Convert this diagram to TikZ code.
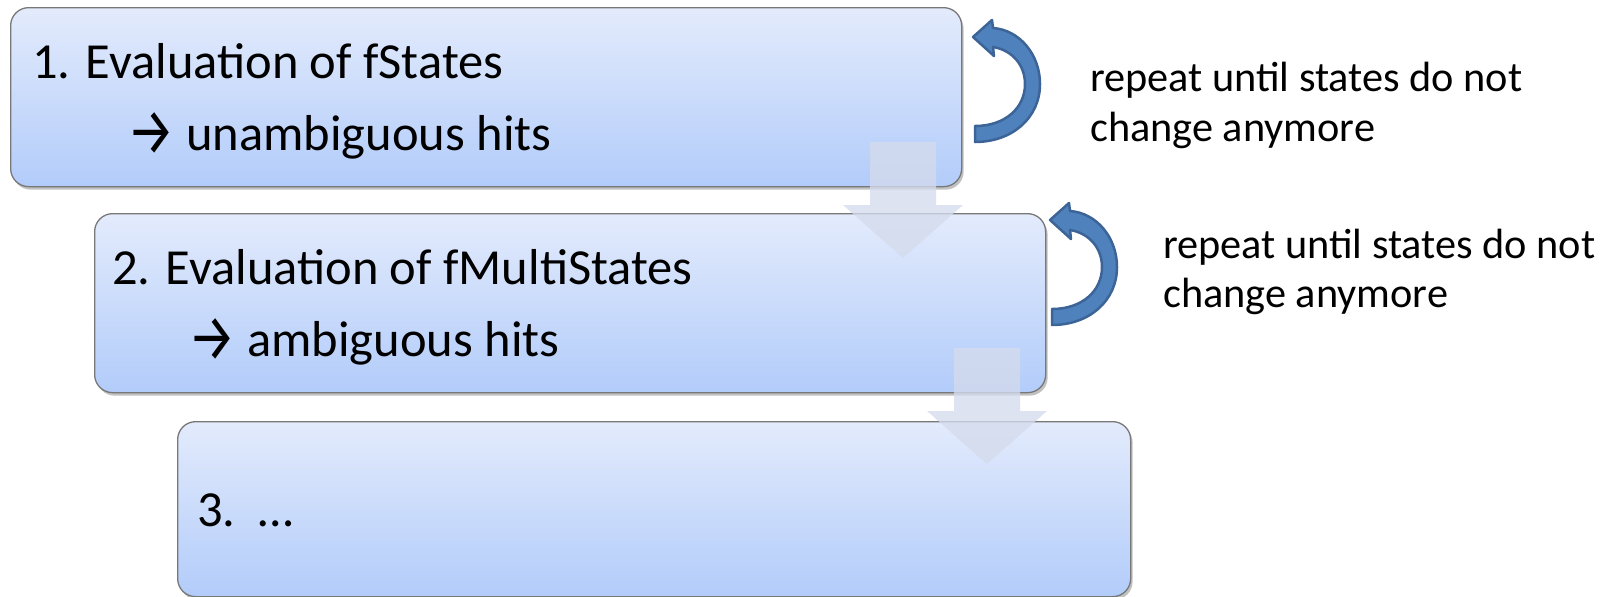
\documentclass[tikz,border=0pt]{standalone}
\usepackage{fontspec}
\usepackage{graphicx}
\setmainfont{Carlito}
\newfontfamily\firaarrow{Fira Sans}
\newfontfamily\dejavuarrow{DejaVu Sans}
% right arrow glyph: Fira Sans if it has one, else DejaVu Sans; head made a little taller
\newcommand{\steparrow}{\raisebox{-4.5pt}{\scalebox{1.05}[1.3]{\firaarrow\iffontchar\font"2192 →\else\dejavuarrow →\fi}}}
\usetikzlibrary{shadows}

\definecolor{boxtop}{RGB}{227,235,252}
\definecolor{boxbot}{RGB}{178,204,250}
\definecolor{boxline}{RGB}{120,120,120}
\definecolor{flowfill}{RGB}{212,219,236}
\definecolor{loopfill}{RGB}{79,129,189}
\definecolor{loopline}{RGB}{60,100,150}

\begin{document}
\begin{tikzpicture}[x=1pt,y=-1pt,
  stepbox/.style={draw=boxline, line width=1.3pt, rounded corners=18pt,
    top color=boxtop, bottom color=boxbot,
    minimum width=951pt, minimum height=179pt, anchor=north west, inner sep=0pt,
    drop shadow={shadow xshift=2pt, shadow yshift=-3pt, opacity=0.35, fill=black!70}},
  boxtext/.style={anchor=base west, inner sep=0pt, font=\fontsize{50.5}{60}\selectfont},
  notetext/.style={anchor=base west, inner sep=0pt, font=\fontsize{42.3}{50}\selectfont},
  flowarrow/.style={fill=flowfill, opacity=0.78},
  looparrow/.pic={
    \filldraw[fill=loopfill, draw=loopline, line width=2.5pt, line join=round]
      (0,-8) -- (0,8)
      .. controls (37,8) and (65,-16) .. (65,-50)
      .. controls (65,-79) and (45,-104) .. (18,-106)
      -- (17,-114) -- (-2,-97) -- (19,-78) -- (18,-87)
      .. controls (37,-84) and (50,-69) .. (50,-50)
      .. controls (50,-26) and (30,-8) .. (0,-8) -- cycle;
  }
]
\useasboundingbox (0,0) rectangle (1617,597);

% process steps
\node[stepbox] (s1) at (10,7) {};
\node[stepbox] (s2) at (94,213) {};
\node[stepbox, minimum width=953pt, minimum height=175pt] (s3) at (177,421) {};

% downward flow arrows between the steps
\fill[flowarrow] (870,142) -- (936,142) -- (936,205) -- (963,205)
  -- (903,258) -- (843,205) -- (870,205) -- cycle;
\fill[flowarrow] (954,348) -- (1020,348) -- (1020,411) -- (1047,411)
  -- (987,464) -- (927,411) -- (954,411) -- cycle;

% step texts
\node[boxtext] (t1a) at (32,78) {1. Evaluation of fStates};
\node[boxtext] (t1b) at (127,150) {\steparrow\ unambiguous hits};
\node[boxtext] (t2a) at (112,284) {2. Evaluation of fMultiStates};
\node[boxtext] (t2b) at (188,356) {\steparrow\ ambiguous hits};
\node[boxtext] (t3) at (197,526) {3.\ \ …};

% repeat loops
\pic at (975,134) {looparrow};
\pic at (1052,317) {looparrow};

\node[notetext] (n1a) at (1090,91) {repeat until states do not};
\node[notetext] (n1b) at (1090,141) {change anymore};
\node[notetext] (n2a) at (1163,258) {repeat until states do not};
\node[notetext] (n2b) at (1163,307) {change anymore};
\end{tikzpicture}
\end{document}
